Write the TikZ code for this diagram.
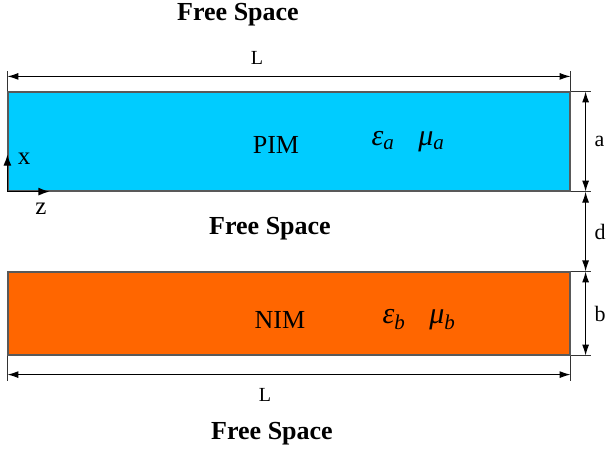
\documentclass[tikz,border=0pt]{standalone}
\usepackage{fontspec}
\setmainfont{Liberation Serif}
\usetikzlibrary{arrows.meta,positioning,calc}

\tikzstyle{dimline} = [
  {Latex[length=11pt,width=7pt]}-{Latex[length=11pt,width=7pt]},
  line width=1.2pt,
  black,
]
\tikzstyle{extline} = [line width=1pt, black!80]
\tikzstyle{slab} = [rectangle, draw=black!65, line width=1.2pt, minimum width=562pt, inner sep=0pt]
\definecolor{pimcyan}{RGB}{0, 204, 255}
\definecolor{nimorange}{RGB}{255, 102, 0}

\begin{document}
\begin{tikzpicture}[x=1pt,y=-1pt]
      \useasboundingbox (0,0) rectangle (608,453);

      \node[slab,fill=pimcyan,minimum height=99pt] (pim) at (289,141.5) {};
      \node[slab,fill=nimorange,minimum height=83pt] (nim) at (289,313.5) {};

      \node[font=\fontsize{26}{30}\selectfont\bfseries] (fs1) at (238,15) {Free Space};
      \node[font=\fontsize{26}{30}\selectfont\bfseries] (fs2) at (270,229) {Free Space};
      \node[font=\fontsize{26}{30}\selectfont\bfseries] (fs3) at (272,434) {Free Space};

      \node[font=\fontsize{26}{30}\selectfont] (pimtxt) at (276,145) {PIM};
      \node[font=\fontsize{30}{34}\selectfont\itshape] (pimeps) at (408,142) {ε\textsubscript{a}\hspace{0.8em}μ\textsubscript{a}};
      \node[font=\fontsize{26}{30}\selectfont] (nimtxt) at (280,320) {NIM};
      \node[font=\fontsize{30}{34}\selectfont\itshape] (nimeps) at (419,320) {ε\textsubscript{b}\hspace{0.8em}μ\textsubscript{b}};

      % length L, top
      \coordinate (ltl) at ([yshift=20pt]pim.north west);
      \coordinate (ltr) at ([yshift=20pt]pim.north east);
      \draw[extline] (pim.north west) -- (ltl);
      \draw[extline] (pim.north east) -- (ltr);
      \draw[dimline] ([yshift=-5pt]ltl) -- ([yshift=-5pt]ltr);
      \node[font=\fontsize{20}{24}\selectfont] (ltop) at (257,58) {L};

      % length L, bottom
      \coordinate (lbl) at ([yshift=-25pt]nim.south west);
      \coordinate (lbr) at ([yshift=-25pt]nim.south east);
      \draw[extline] (nim.south west) -- (lbl);
      \draw[extline] (nim.south east) -- (lbr);
      \draw[dimline] ([yshift=6pt]lbl) -- ([yshift=6pt]lbr);
      \node[font=\fontsize{20}{24}\selectfont] (lbot) at (265,395) {L};

      % thicknesses a, d, b
      \coordinate (e1) at ([xshift=20pt]pim.north east);
      \coordinate (e2) at ([xshift=20pt]pim.south east);
      \coordinate (e3) at ([xshift=20pt]nim.north east);
      \coordinate (e4) at ([xshift=20pt]nim.south east);
      \draw[extline] (pim.north east) -- (e1);
      \draw[extline] (pim.south east) -- (e2);
      \draw[extline] (nim.north east) -- (e3);
      \draw[extline] (nim.south east) -- (e4);
      \draw[dimline] ([xshift=-5pt]e1) -- node[right=5pt,font=\fontsize{22}{26}\selectfont] (alab) {a} ([xshift=-5pt]e2);
      \draw[dimline] ([xshift=-5pt]e2) -- node[right=5pt,font=\fontsize{22}{26}\selectfont] (dlab) {d} ([xshift=-5pt]e3);
      \draw[dimline] ([xshift=-5pt]e3) -- node[right=5pt,font=\fontsize{22}{26}\selectfont] (blab) {b} ([xshift=-5pt]e4);

      % axes
      \coordinate (xend) at ([yshift=37pt]pim.south west);
      \coordinate (zend) at ([xshift=42pt]pim.south west);
      \draw[-{Latex[length=11pt,width=8pt]},line width=1.2pt] (pim.south west) -- (xend);
      \draw[-{Latex[length=11pt,width=8pt]},line width=1.2pt] (pim.south west) -- (zend);
      \node[font=\fontsize{25}{28}\selectfont] (xlab) at (24,159) {x};
      \node[font=\fontsize{25}{28}\selectfont] (zlab) at (41,209) {z};
    \end{tikzpicture}
\end{document}
